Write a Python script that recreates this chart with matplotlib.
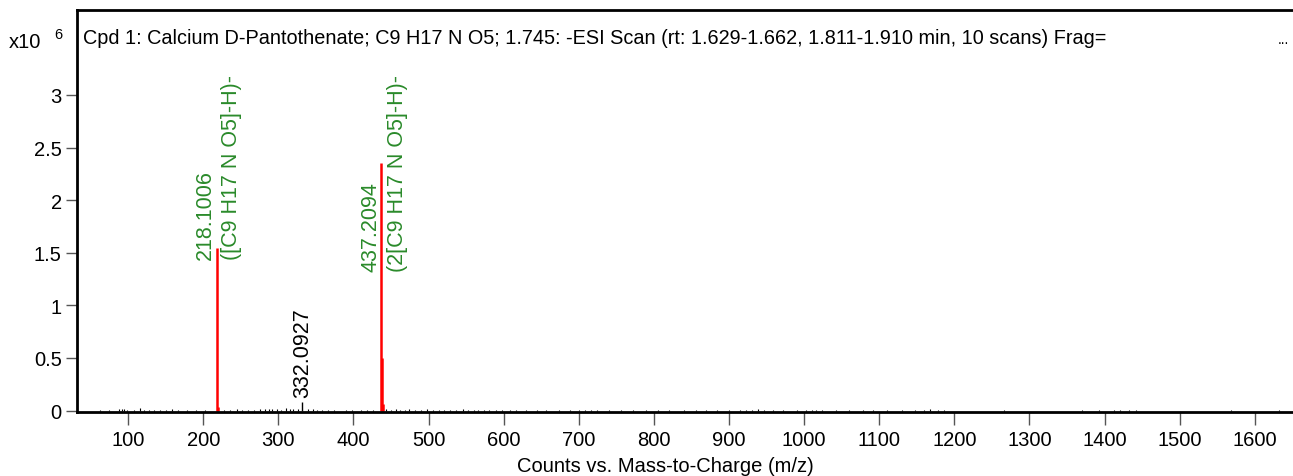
import matplotlib

matplotlib.use("Agg")
import matplotlib.pyplot as plt

plt.rcParams["font.family"] = ["Liberation Sans", "DejaVu Sans"]

# labelled peaks (m/z, counts x10^6)
main_mz = [218.1006, 219.10, 437.2094, 438.21, 439.21]
main_int = [1.548, 0.03, 2.355, 0.503, 0.06]

minor_mz = [332.0927]
minor_int = [0.078]

# baseline noise sticks
noise_mz = [62, 75, 88, 92, 95, 98, 108, 116, 121, 128, 134, 142, 150, 158, 166, 178,
            190, 203, 228, 236, 245, 252, 260, 268, 275, 282, 288, 292, 298, 304, 310,
            316, 320, 326, 340, 346, 352, 358, 366, 374, 390, 398, 410, 418, 426, 444,
            450, 456, 462, 468, 474, 482, 490, 498, 506, 514, 520, 528, 536, 546, 552,
            560, 566, 574, 580, 590, 598, 608, 616, 630, 644, 656, 674, 688, 700, 708,
            716, 724, 740, 756, 772, 790, 806, 820, 840, 856, 870, 884, 900, 914, 922,
            930, 938, 946, 958, 972, 990, 1002, 1010, 1016, 1024, 1042, 1060, 1078, 1092,
            1110, 1130, 1148, 1160, 1168, 1178, 1186, 1266, 1370, 1392, 1412, 1420, 1432,
            1442, 1568, 1632]
noise_int = [0.006, 0.008, 0.012, 0.016, 0.010, 0.007, 0.006, 0.020, 0.008, 0.007,
             0.009, 0.006, 0.008, 0.010, 0.006, 0.007, 0.008, 0.009, 0.007, 0.008,
             0.010, 0.006, 0.009, 0.008, 0.010, 0.012, 0.018, 0.010, 0.014, 0.009,
             0.020, 0.012, 0.010, 0.011, 0.013, 0.010, 0.008, 0.009, 0.007, 0.008,
             0.008, 0.006, 0.007, 0.008, 0.006, 0.012, 0.009, 0.010, 0.008, 0.007,
             0.010, 0.009, 0.008, 0.010, 0.009, 0.008, 0.007, 0.009, 0.008, 0.010,
             0.007, 0.009, 0.008, 0.008, 0.007, 0.006, 0.007, 0.008, 0.006, 0.009,
             0.006, 0.007, 0.006, 0.008, 0.009, 0.006, 0.008, 0.007, 0.006, 0.008,
             0.007, 0.006, 0.008, 0.007, 0.006, 0.007, 0.006, 0.009, 0.007, 0.008,
             0.006, 0.009, 0.010, 0.008, 0.007, 0.006, 0.008, 0.007, 0.006, 0.007,
             0.008, 0.006, 0.007, 0.006, 0.007, 0.006, 0.007, 0.008, 0.006, 0.010,
             0.009, 0.008, 0.007, 0.006, 0.007, 0.007, 0.008, 0.009, 0.007, 0.007,
             0.008]

x_ticks = list(range(100, 1700, 100))
y_ticks = [0, 0.5, 1, 1.5, 2, 2.5, 3]
y_tick_labels = ["0", "0.5", "1", "1.5", "2", "2.5", "3"]

title = ("Cpd 1: Calcium D-Pantothenate; C9 H17 N O5; 1.745: -ESI Scan "
         "(rt: 1.629-1.662, 1.811-1.910 min, 10 scans) Frag=")
green = "#2a8a2a"
fs = 14.5
lab_fs = 15.5

fig = plt.figure(figsize=(12.93, 4.77), dpi=100)
ax = fig.add_axes([77 / 1293, 1 - 413 / 477, 1 - 77 / 1293 + 0.01, (413 - 11) / 477])

ax.vlines(noise_mz, 0, noise_int, color="black", linewidth=0.8)
ax.vlines(minor_mz, 0, minor_int, color="black", linewidth=1.0)
ax.vlines(main_mz, 0, main_int, color="#ff0000", linewidth=1.8)

ax.text(218.1006 + 2, 1.44, "218.1006\n([C9 H17 N O5]-H)-", rotation=90, ha="center",
        va="bottom", multialignment="left", color=green, fontsize=lab_fs, linespacing=1.3)
ax.text(437.2094 + 4, 1.326, "437.2094\n(2[C9 H17 N O5]-H)-", rotation=90, ha="center",
        va="bottom", multialignment="left", color=green, fontsize=lab_fs, linespacing=1.3)
ax.text(332.0927, 0.128, "332.0927", rotation=90, ha="center", va="bottom",
        color="black", fontsize=lab_fs)

ax.set_xlim(32, 1668)
ax.set_ylim(-0.014, 3.807)
ax.set_xticks(x_ticks)
ax.set_yticks(y_ticks)
ax.set_yticklabels(y_tick_labels)
ax.tick_params(axis="x", length=9, width=1, color="#555555", labelsize=fs, pad=4)
ax.tick_params(axis="y", length=8, width=1, color="#555555", labelsize=fs, pad=3)
for side in ["left", "bottom", "top"]:
    ax.spines[side].set_linewidth(2)
ax.spines["right"].set_visible(False)

ax.text(0.005, 0.932, title, transform=ax.transAxes, fontsize=14.3, va="center")
fig.text(1283 / 1293, 1 - 40 / 477, "...", fontsize=10, ha="center", va="center")
fig.text(9 / 1293, 1 - 42 / 477, "x10", fontsize=fs, va="center")
fig.text(54 / 1293, 1 - 35 / 477, "6", fontsize=10.5, va="center")
fig.text(665 / 1293, 1 - 467 / 477, "Counts vs. Mass-to-Charge (m/z)", fontsize=fs,
         ha="center", va="center")

fig.savefig("out.png", dpi=100)
